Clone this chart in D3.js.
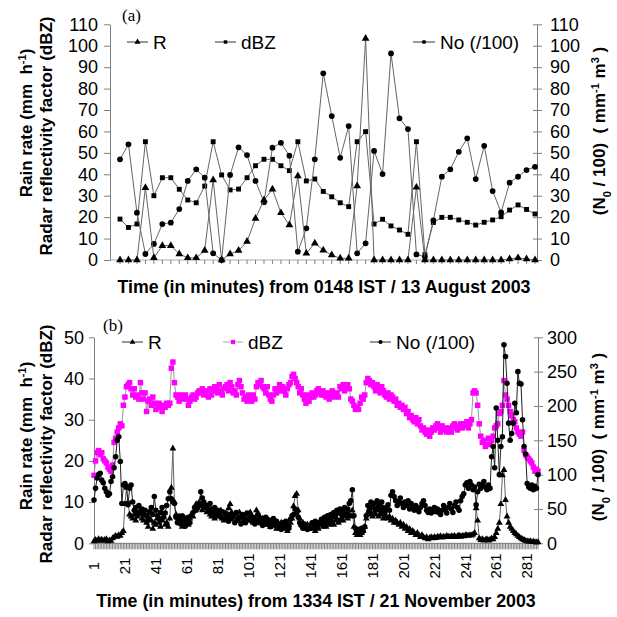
<!DOCTYPE html>
<html><head><meta charset="utf-8">
<script src="https://cdn.jsdelivr.net/npm/d3@7/dist/d3.min.js"></script>
<style>
body{margin:0;background:#fff}
text{font-family:"Liberation Sans",Arial,sans-serif;fill:#000}
</style>
</head><body>
<svg id="chart" width="617" height="617"></svg>
<script>
// ---------- Panel (a) data : 13 August 2003 ----------
const catsA = d3.range(1, 51);
const panelA_R = [0,0,0,33.7,1.1,6.7,6.7,2.8,1,1, 4.4,37.3,0,2.8,4.4,8.6,19.4,28,33,22,
  16.3,39.2,3.1,7.8,4.6,2.3,0.8,0.8,34.5,103.4, 0,0,0,0,0,33.9,0,0,0,0, 0,0,0,0,0,0,0.5,1,0.5,0];
const panelA_dBZ = [19.1,15.2,16.8,55.2,30,38.4,38.4,33,28,26.7, 34.5,55.2,39.7,32.7,33.1,38.4,44,47,47,44,
  41.7,55.2,36.9,37.8,32,29.5,26.7,24.9,55.2,59.9, 16.8,19,15.9,14,12,55.2,2.5,17.5,19.9,19.9,
  18.7,17.6,16.3,17.6,18.7,20.2,23.3,25.7,23.6,21.5];
const panelA_No = [47,54,22.1,2.8,7.5,16.8,17.4,23.8,36.9,42.3, 38.4,3.1,0,39.7,52.6,49,36.9,27,52.4,54.7,
  48.7,3.9,14.8,47,87.1,67.2,47.7,62.5,3.1,7.8, 50.9,40.1,96.4,66.1,61.1,2.6,1.5,18.5,38.9,42.3,
  50.5,56.8,37.8,53.3,32.2,22.2,36.1,38.9,42,43.5];
const ticksA_left = [0,10,20,30,40,50,60,70,80,90,100,110];
const ticksA_right = [0,10,20,30,40,50,60,70,80,90,100,110];

// ---------- Panel (b) data : 21 November 2003 ----------
const catsB = d3.range(1, 289);
const tickLabelsB = ["1","21","41","61","81","101","121","141","161","181","201","221","241","261","281"];
const panelB_dBZ = [
16.5,20,22,22.5,21.5,22,20.5,20,19.5,18.5,
18,17.5,19,24.5,25.5,27,28,29,28.5,33.5,
35.5,38,38.5,39,37.5,36,37.5,35.5,36,35,
39,36.5,35,36.5,32,34.5,35,33.5,35.5,34,
32.5,33.5,34,33,32,33.5,33,34,33.5,34,
42.5,44,39,36,35.5,34.5,36,35,35.5,36,
35,33.5,34.5,35.5,36,35,35.5,36.5,37,36.5,
37.5,36,36.5,37,35.5,37.5,36,37,38,37.5,
36.5,38.5,37,36,37.5,38,38.5,37,39,38,
36.5,37,36,38.5,39.5,38,36.5,35,35.5,34.5,
36,35.5,34.5,36,35,38,39,38.5,39.5,38,
37.5,36.5,38,36,35,34.5,36,37.5,36.5,37.5,
38.5,37,38,37,36,37.5,38.5,39,40.5,41,
40,39,38,36.5,37.5,36,35,34,36,34.5,
35.5,36.5,35.5,36,37,37.5,36.5,36,37,36,
35.5,36.5,35,36,37,35.5,36,36.5,35.5,38,
37.5,38.5,37,38,38.5,37.5,35,34.5,33.5,32.5,
33,32.5,34,35.5,35,36,39,40,39.5,38.5,
39,38,37,38.5,37.5,36.5,38,37,36,35.5,
36.5,35,36,35.5,34.5,35,33.5,34,33,33.5,
32.5,33,31.5,32,30.5,31,30,29.5,30.5,29,
30,28.5,27.5,28,27,26.5,27.5,26,27,28,
27.5,28.5,29,28,27,28.5,27.5,28,27,27.5,
28,27,28.5,29,28,27.5,28.5,29,28,29,
28.5,29.5,28,29,30,36.5,37,36.5,33.5,29,
26,24.5,25,23.5,24,25.5,24,25,26,28,
28.5,29,31.5,32,33.5,39.5,36,35,33.5,32,
31,30,29.5,28,27,26.5,26,27,22.5,21.5,
21,20.5,20,19.5,18.5,17.5,18,17.5];
const panelB_No = [
63,80,95,100,102,92,88,80,75,70,
72,90,97,110,126,150,155,119,58,85,
87,83,56,80,85,60,48,52,45,55,
44,50,42,48,40,35,46,52,42,68,
48,40,36,45,52,38,44,55,65,75,
65,60,58,38,30,35,28,40,32,25,
34,38,30,40,45,52,48,55,58,75,
66,60,52,55,48,58,50,45,52,40,
48,42,38,46,35,44,38,32,42,36,
40,30,45,34,38,28,42,36,30,44,
35,40,32,38,28,34,42,30,36,26,
32,38,28,34,24,30,36,26,32,22,
28,20,30,24,32,27,22,35,40,42,
50,45,38,30,26,22,28,24,20,26,
22,30,26,32,25,30,28,35,30,38,
32,40,36,42,38,45,40,48,44,50,
42,48,52,45,50,58,62,78,40,22,
18,20,16,22,18,24,40,55,48,60,
52,58,50,62,55,48,60,52,45,50,
56,48,70,75,68,62,55,60,66,58,
52,60,55,62,50,58,52,48,55,50,
46,52,58,62,55,48,45,50,44,48,
52,46,50,45,42,48,55,50,44,52,
58,50,45,55,60,52,48,62,68,72,
85,88,80,90,85,78,82,56,75,86,
80,85,90,82,78,85,80,126,141,110,
197,150,100,141,155,289,272,233,175,150,
160,175,204,190,250,233,232,180,141,130,
87,82,80,85,78,83,80,100];
const panelB_R = [
0.5,0.8,0.6,1,0.7,0.9,0.6,0.8,1,0.5,
0.7,0.6,1.2,1.5,1.8,1.6,2,1.8,2.5,3,
9.5,13.5,10,7,6.5,6,7,5.5,6.5,7,
8,6,5.5,7,5,4,6,5.5,3.5,5,
4.5,6,5,4,5.5,6.5,4.5,5,4,6,
13.5,23,10,7,5.5,6.5,5,4,5.5,6,
5,4.5,6,7,6.5,8,9.5,8.5,10,9,
8,9.5,8.5,7.5,8,7,6.5,7.5,6,7,
7,6.5,8,6,5.5,7,6.5,8.5,9.5,7.5,
6.5,7,5.5,6,7.5,6.5,5,6,7,5.5,
6,7.5,6.5,5,6,8,7,6.5,5.5,6,
5,4.5,6,5.5,4,5,4.5,5.5,3.5,4.5,
4,5,4.5,3.5,4,3,4.5,5,6,9,
11.5,12,8,6,4.5,5,4,3.5,4.5,3.5,
4,3.5,4.5,3,4,3.5,4.5,5,4,4.5,
4,5,4.5,5.5,5,4.5,5.5,6,5,5.5,
6,5.5,6.5,7,6,7,6.5,8,4,2.5,
2,2.5,2,2.5,3,4,6,7.5,8,7,
6.5,7.5,7,8,6.5,7,7.5,6,7,6.5,
6,6.5,5.5,6,5,5.5,5,4.5,5,4,
4.5,3.5,4,3,3.5,2.5,3,2.5,2,2.5,
2,1.5,2,1.5,1.2,1.5,1,1.3,1.5,1.2,
1.5,1.3,1.6,1.5,1.7,1.4,1.6,1.5,1.8,1.6,
1.5,1.7,1.6,1.8,1.5,1.7,1.9,1.6,1.8,1.7,
1.9,2,1.8,2,1.9,2.1,2.5,8.5,5.5,1.2,
0.8,1,0.7,0.8,1,0.7,0.9,1.2,1,1.5,
2.5,3.5,5,9.5,16.5,17.8,10.5,6.5,5,4,
3.5,3,2.5,2.2,1.8,1.5,1.2,1,0.8,0.6,
0.5,0.4,0.5,0.3,0.4,0.3,0.2,0.3];
const ticksB_left = [0,10,20,30,40,50];
const ticksB_right = [0,50,100,150,200,250,300];

// ---------- drawing ----------
const svg = d3.select("#chart");
const AX = "#808080";

function marker(type, size){ return d3.symbol().type(type).size(size)(); }

function drawSeries(g, cats, x, y, data, cfg){
  const n = Math.min(cats.length, data.length);
  const pts = d3.range(n).map(i => [x(cats[i]), y(data[i])]);
  g.append("path").attr("d", d3.line()(pts)).attr("fill","none")
    .attr("stroke", cfg.line).attr("stroke-width", cfg.lw || 1);
  g.selectAll(null).data(pts).join("path")
    .attr("transform", p => `translate(${p[0]},${p[1]})`)
    .attr("d", marker(cfg.type, cfg.size))
    .attr("fill", cfg.fill);
}

function legendItem(g, x1, x2, y, cfg, label){
  g.append("line").attr("x1", x1).attr("x2", x2).attr("y1", y).attr("y2", y)
    .attr("stroke", cfg.line).attr("stroke-width", 1);
  g.append("path").attr("transform", `translate(${(x1+x2)/2},${y})`)
    .attr("d", marker(cfg.type, cfg.size)).attr("fill", cfg.fill);
  g.append("text").attr("x", x2 + 5).attr("y", y).attr("dy", "0.36em")
    .style("font-size", "19px").text(label);
}

function styleAxis(sel, fs){
  sel.select(".domain").attr("stroke", AX);
  sel.selectAll(".tick line").attr("stroke", AX);
  sel.selectAll(".tick text").style("font-size", fs).attr("fill", "#000")
    .style("font-family", '"Liberation Sans",Arial,sans-serif');
}

function yTitleLeft(g, x1, y1, x2, y2){
  const t1 = g.append("text").attr("transform", `translate(${x1},${y1}) rotate(-90)`)
    .attr("text-anchor","middle").attr("dy","0.35em")
    .style("font-size","17px").style("font-weight","bold");
  t1.append("tspan").text("Rain rate (mm\u00a0 h");
  t1.append("tspan").attr("baseline-shift","super").style("font-size","11px").text("-1");
  t1.append("tspan").text(")");
  g.append("text").attr("transform", `translate(${x2},${y2}) rotate(-90)`)
    .attr("text-anchor","middle").attr("dy","0.35em")
    .style("font-size","17px").style("font-weight","bold")
    .text("Radar reflectivity factor (dBZ)");
}

function yTitleRight(g, x, y){
  const t = g.append("text").attr("transform", `translate(${x},${y}) rotate(-90)`)
    .attr("text-anchor","middle").attr("dy","0.35em")
    .style("font-size","17px").style("font-weight","bold");
  t.append("tspan").text("(N");
  t.append("tspan").attr("baseline-shift","sub").style("font-size","11px").text("0");
  t.append("tspan").text(" / 100)\u00a0 ( mm");
  t.append("tspan").attr("baseline-shift","super").style("font-size","11px").text("-1");
  t.append("tspan").text(" m");
  t.append("tspan").attr("baseline-shift","super").style("font-size","11px").text("3");
  t.append("tspan").text(" )");
}

// ===== Panel (a) =====
{
  const g = svg.append("g");
  const left = 110, right = 537, top = 24.3, bottom = 260;
  const x = d3.scalePoint().domain(catsA).range([120, 535]);
  const yL = d3.scaleLinear().domain([0,110]).range([bottom, top]);
  const yR = d3.scaleLinear().domain([0,110]).range([bottom, top]);

  g.append("line").attr("x1", left).attr("x2", right).attr("y1", bottom).attr("y2", bottom).attr("stroke", "#aaa");
  g.selectAll(null).data(catsA).join("line")
    .attr("x1", d => x(d)).attr("x2", d => x(d)).attr("y1", bottom).attr("y2", bottom + 4)
    .attr("stroke", AX);

  const la = g.append("g").attr("transform", `translate(${left},0)`)
    .call(d3.axisLeft(yL).tickValues(ticksA_left).tickSize(6).tickPadding(6).tickSizeOuter(0));
  styleAxis(la, "18px");
  const ra = g.append("g").attr("transform", `translate(${right},0)`)
    .call(d3.axisRight(yR).tickValues(ticksA_right).tickSize(5).tickPadding(8).tickSizeOuter(0));
  styleAxis(ra, "18px");
  ra.selectAll(".tick line").attr("x1", -4);

  const cR = {line:"#666", fill:"#000", type:d3.symbolTriangle, size:26};
  const cD = {line:"#666", fill:"#000", type:d3.symbolSquare, size:24};
  const cN = {line:"#666", fill:"#000", type:d3.symbolCircle, size:26};
  drawSeries(g, catsA, x, yL, panelA_dBZ, cD);
  drawSeries(g, catsA, x, yR, panelA_No, cN);
  drawSeries(g, catsA, x, yL, panelA_R, cR);

  g.append("text").attr("x", 122).attr("y", 21).style("font-family",'"Liberation Serif","Times New Roman",serif')
    .style("font-size","17px").text("(a)");
  legendItem(g, 127, 148, 42, {line:"#333", fill:"#000", type:d3.symbolTriangle, size:16}, "R");
  legendItem(g, 215, 236, 42, {line:"#333", fill:"#000", type:d3.symbolSquare, size:12}, "dBZ");
  legendItem(g, 413, 435, 42, {line:"#333", fill:"#000", type:d3.symbolCircle, size:14}, "No (/100)");

  yTitleLeft(g, 26, 123, 46, 136);
  yTitleRight(g, 599, 131);
  g.append("text").attr("x", 324).attr("y", 293).attr("text-anchor","middle")
    .style("font-size","17.8px").style("font-weight","bold")
    .text("Time (in minutes) from 0148 IST / 13 August 2003");
}

// ===== Panel (b) =====
{
  const g = svg.append("g");
  const left = 94, right = 538, top = 337.3, bottom = 543.3;
  const x = d3.scalePoint().domain(catsB).range([94, 538]);
  const yL = d3.scaleLinear().domain([0,50]).range([bottom, top]);
  const yR = d3.scaleLinear().domain([0,300]).range([bottom, top]);

  g.append("line").attr("x1", left).attr("x2", right).attr("y1", bottom).attr("y2", bottom).attr("stroke", AX);
  g.selectAll(null).data(catsB).join("line")
    .attr("x1", d => x(d)).attr("x2", d => x(d)).attr("y1", bottom).attr("y2", bottom + 6)
    .attr("stroke", "#666").attr("stroke-width", 0.8);
  g.selectAll(null).data(tickLabelsB).join("text")
    .attr("transform", d => `translate(${x(+d)},566) rotate(-90)`)
    .attr("text-anchor","middle").attr("dy","0.35em")
    .style("font-size","15px").text(d => d);

  const la = g.append("g").attr("transform", `translate(${left},0)`)
    .call(d3.axisLeft(yL).tickValues(ticksB_left).tickSize(5).tickPadding(5).tickSizeOuter(0));
  styleAxis(la, "18px");
  const ra = g.append("g").attr("transform", `translate(${right},0)`)
    .call(d3.axisRight(yR).tickValues(ticksB_right).tickSize(5).tickPadding(4).tickSizeOuter(0));
  styleAxis(ra, "18px");
  ra.selectAll(".tick line").attr("x1", -4);

  const cD = {line:"#999", fill:"#ff00ff", type:d3.symbolSquare, size:30};
  const cR = {line:"#666", fill:"#000", type:d3.symbolTriangle, size:20};
  const cN = {line:"#222", fill:"#000", type:d3.symbolCircle, size:24};
  drawSeries(g, catsB, x, yL, panelB_dBZ, cD);
  drawSeries(g, catsB, x, yL, panelB_R, cR);
  drawSeries(g, catsB, x, yR, panelB_No, cN);

  g.append("text").attr("x", 103).attr("y", 331).style("font-family",'"Liberation Serif","Times New Roman",serif')
    .style("font-size","17px").text("(b)");
  legendItem(g, 122, 143, 342, {line:"#333", fill:"#000", type:d3.symbolTriangle, size:14}, "R");
  legendItem(g, 223, 243, 342, {line:"#aaa", fill:"#ff00ff", type:d3.symbolSquare, size:18}, "dBZ");
  legendItem(g, 370, 391, 342, {line:"#333", fill:"#000", type:d3.symbolCircle, size:14}, "No (/100)");

  yTitleLeft(g, 26, 436, 46, 444);
  yTitleRight(g, 598, 437);
  g.append("text").attr("x", 316).attr("y", 607).attr("text-anchor","middle")
    .style("font-size","17.8px").style("font-weight","bold")
    .text("Time (in minutes) from 1334 IST / 21 November 2003");
}
</script>
</body></html>
